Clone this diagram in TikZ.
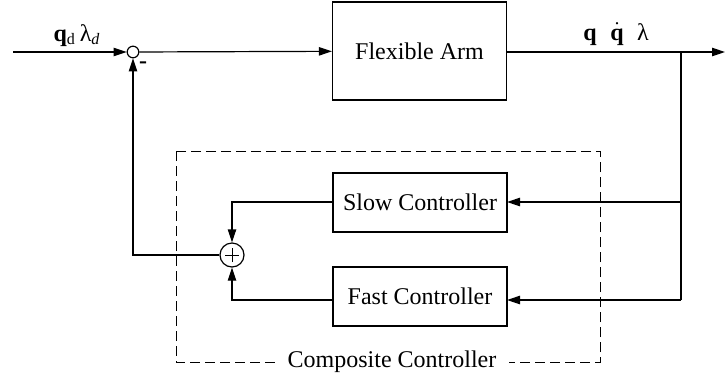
\documentclass[tikz,border=0pt]{standalone}
\usepackage{fontspec}
\setmainfont{Liberation Serif}
\usetikzlibrary{arrows.meta,calc}
\begin{document}
\begin{tikzpicture}[x=0.5pt,y=-0.5pt,
  line width=0.6pt,
  every node/.style={font=\fontsize{12}{14}\selectfont},
  blockbox/.style={draw, minimum width=87pt, minimum height=29.5pt, inner sep=0pt},
  sumdot/.style={draw, circle, minimum size=5.8pt, inner sep=0pt},
  sumbig/.style={draw, circle, minimum size=12pt, inner sep=0pt},
  arr/.style={-{Triangle[length=6.5pt,width=4.2pt]}},
  ctrlframe/.style={draw, dashed, dash pattern=on 4.8pt off 2.7pt, line width=0.5pt},
  sig/.style={anchor=base, inner sep=0pt}
]
\useasboundingbox (0,0) rectangle (726,381);

% blocks
\node[blockbox, minimum height=49pt] (arm) at (419.5,51) {Flexible Arm};
\node[blockbox] (slow) at (420,202.5) {Slow Controller};
\node[blockbox] (fast) at (420,296.5) {Fast Controller};

% summing junctions
\node[sumdot] (s1) at (133,52) {};
\node[sumbig] (s2) at (232,255) {};
\draw[line width=0.5pt] ($(s2)+(-3.5pt,0)$) -- ($(s2)+(3.5pt,0)$)
                        ($(s2)+(0,-3.5pt)$) -- ($(s2)+(0,3.5pt)$);

% auxiliary points
\coordinate (in) at (13,52);
\coordinate (out) at (725,52);
\coordinate (br) at (681,52);
\coordinate (brs) at (681,202);
\coordinate (brf) at (681,300);
\coordinate (slowin) at (507,202);
\coordinate (fastin) at (507,300);
\coordinate (slowout) at (333,202);
\coordinate (fastout) at (333,300);

% forward path
\draw[arr] (in) -- (s1);
\draw[arr] (s1) -- (arm);
\draw[arr] (arm.east |- out) -- (out);

% measurement feedback into the controllers
\draw (br) -- (brf);
\draw[arr] (brs) -- (slowin);
\draw[arr] (brf) -- (fastin);

% controller outputs into the adder
\draw[arr] (slowout) -| (s2.north);
\draw[arr] (fastout) -| (s2.south);

% composite control back to the input junction
\draw[arr] (s2.west) -| (s1.south);

% signal labels
\node[sig] (ref) at (77,41) {\textbf{q}\textsubscript{d}\,λ\textsubscript{\itshape d}};
\node[sig] (yq) at (590,40) {\textbf{q}};
\node[sig] (yqd) at (617,40) {$\dot{\hbox{\textbf{q}}}$};
\node[sig] (yl) at (643,40) {λ};
\node[sig] (minus) at (143,68) {\textbf{-}};

% composite controller frame
\draw[ctrlframe] (176,151) rectangle (600,362);
\node[fill=white, inner xsep=6.5pt, inner ysep=1pt] (cc) at (392,362) {Composite Controller};
\end{tikzpicture}
\end{document}
